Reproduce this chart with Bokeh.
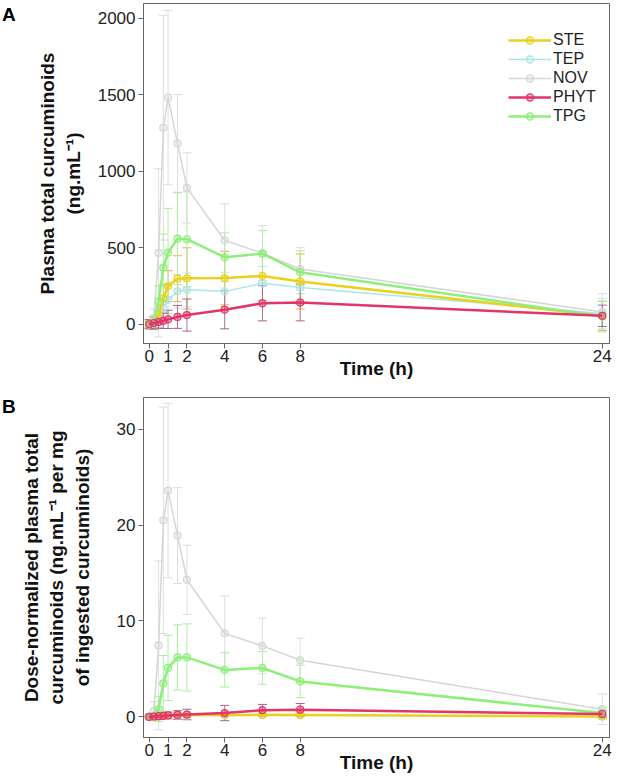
from bokeh.plotting import figure
from bokeh.models import (ColumnDataSource, Whisker, TeeHead, Legend, LegendItem,
                          FixedTicker, Range1d, Div)
from bokeh.layouts import column, row
from bokeh.embed import file_html
from bokeh.resources import INLINE

# ---------------- data ----------------
time_h = [0, 0.25, 0.5, 0.75, 1, 1.5, 2, 4, 6, 8, 24]
x_ticks = [0, 1, 2, 4, 6, 8, 24]
series_names = ["STE", "TEP", "NOV", "PHYT", "TPG"]

# Panel A: plasma total curcuminoids (ng/mL), mean and SD
ste_a = [0, 10, 60, 170, 250, 298, 300, 302, 316, 280, 55]
ste_a_sd = [30, 40, 60, 90, 100, 150, 200, 175, 160, 180, 95]
tep_a = [0, 5, 40, 110, 160, 215, 225, 215, 268, 240, 70]
tep_a_sd = [20, 30, 50, 70, 90, 110, 110, 125, 110, 110, 100]
nov_a = [0, 40, 467, 1286, 1483, 1183, 892, 548, 465, 361, 80]
nov_a_sd = [20, 60, 550, 735, 570, 320, 230, 240, 180, 140, 120]
phyt_a = [0, 8, 15, 22, 32, 48, 60, 95, 137, 142, 55]
phyt_a_sd = [30, 40, 40, 50, 60, 75, 105, 125, 115, 120, 70]
tpg_a = [0, 15, 150, 370, 468, 560, 556, 438, 462, 340, 50]
tpg_a_sd = [20, 40, 100, 220, 290, 300, 310, 160, 150, 140, 100]

# Panel B: dose-normalized values, mean and SD
ste_b = [0, 0.01, 0.05, 0.12, 0.16, 0.2, 0.2, 0.2, 0.21, 0.19, 0.04]
ste_b_sd = [0.05, 0.05, 0.08, 0.1, 0.12, 0.15, 0.15, 0.15, 0.15, 0.15, 0.1]
tep_b = [0, 0.01, 0.03, 0.08, 0.11, 0.15, 0.15, 0.14, 0.18, 0.16, 0.05]
tep_b_sd = [0.05, 0.05, 0.06, 0.08, 0.1, 0.1, 0.1, 0.1, 0.1, 0.1, 0.08]
nov_b = [0, 0.6, 7.45, 20.5, 23.6, 18.9, 14.3, 8.7, 7.4, 5.9, 0.8]
nov_b_sd = [0.3, 1.0, 8.8, 11.8, 9.1, 5.0, 3.6, 3.9, 2.9, 2.3, 1.6]
phyt_b = [0, 0.04, 0.07, 0.1, 0.15, 0.2, 0.25, 0.4, 0.7, 0.75, 0.3]
phyt_b_sd = [0.1, 0.2, 0.2, 0.3, 0.35, 0.45, 0.55, 0.8, 0.6, 0.65, 0.4]
tpg_b = [0, 0.1, 0.8, 3.5, 5.1, 6.2, 6.2, 4.9, 5.1, 3.7, 0.4]
tpg_b_sd = [0.1, 0.3, 1.3, 2.9, 3.4, 3.4, 3.5, 1.8, 1.7, 1.7, 0.6]

# ---------------- styles ----------------
line_col = {"STE": "#ead21c", "TEP": "#ace5ea", "NOV": "#d6d6d6",
            "PHYT": "#e2356b", "TPG": "#8fef7b"}
err_col = {"STE": "#e9b24a", "TEP": "#b9e8ec", "NOV": "#dcdcdc",
           "PHYT": "#a8638f", "TPG": "#a9eea0"}
line_w = {"STE": 2.5, "TEP": 1.5, "NOV": 1.5, "PHYT": 2.5, "TPG": 2.5}
draw_order = ["NOV", "TEP", "STE", "TPG", "PHYT"]

FONT = "Liberation Sans"
XMIN, XMAX = -0.3, 24.38
LETTER_W = 16
FIG_W = 602
BORDER_L = 127
FRAME_W = 466
FRAME_H = 340


def make_panel(data, ylim, yticks, ylabel, height, border_top, border_bottom,
               ylabel_standoff, with_legend):
    p = figure(width=FIG_W, height=height, output_backend="svg", toolbar_location=None,
               x_range=Range1d(XMIN, XMAX), y_range=Range1d(*ylim),
               min_border_left=BORDER_L, min_border_right=FIG_W - BORDER_L - FRAME_W,
               min_border_top=border_top, min_border_bottom=border_bottom)
    p.grid.visible = False
    p.outline_line_color = "#666666"
    p.outline_line_width = 1
    p.background_fill_color = "white"

    renderers = {}
    for name in draw_order:
        mean, sd = data[name]
        src = ColumnDataSource(dict(t=time_h, y=mean,
                                    up=[m + s for m, s in zip(mean, sd)],
                                    lo=[m - s for m, s in zip(mean, sd)]))
        w = Whisker(source=src, base="t", upper="up", lower="lo",
                    line_color=err_col[name], line_width=1, line_alpha=0.9,
                    upper_head=TeeHead(size=9, line_color=err_col[name], line_width=1),
                    lower_head=TeeHead(size=9, line_color=err_col[name], line_width=1))
        p.add_layout(w)
        ln = p.line("t", "y", source=src, line_color=line_col[name], line_width=line_w[name])
        sc = p.scatter("t", "y", source=src, marker="circle", size=7,
                       line_color=line_col[name], line_width=1.2,
                       fill_color=line_col[name], fill_alpha=0.35)
        renderers[name] = [ln, sc]

    if with_legend:
        items = [LegendItem(label=n, renderers=renderers[n]) for n in series_names]
        leg = Legend(items=items, location=(365, 218), border_line_color=None,
                     background_fill_alpha=0, label_text_font=FONT,
                     label_text_font_size="16px", label_text_color="#222222",
                     glyph_width=43, glyph_height=18, label_height=18,
                     spacing=1, padding=0, margin=0, label_standoff=2)
        p.add_layout(leg)

    ax = p.xaxis[0]
    ax.ticker = FixedTicker(ticks=x_ticks)
    ax.axis_label = "Time (h)"
    ay = p.yaxis[0]
    ay.ticker = FixedTicker(ticks=yticks)
    ay.axis_label = ylabel
    for a in (ax, ay):
        a.axis_label_text_font = FONT
        a.axis_label_text_font_style = "bold"
        a.axis_label_text_color = "#111111"
        a.major_label_text_font = FONT
        a.major_label_text_font_size = "17px"
        a.major_label_text_color = "#222222"
        a.axis_line_color = "#666666"
        a.major_tick_line_color = "#666666"
        a.major_tick_out = 5
        a.major_tick_in = 0
        a.minor_tick_line_color = None
    ax.major_label_standoff = 1
    ay.major_label_standoff = 3
    ax.axis_label_text_font_size = "19px"
    ax.axis_label_standoff = -7
    ay.axis_label_text_font_size = "19px"
    ay.axis_label_standoff = ylabel_standoff
    ay.axis_label_text_line_height = 1.2
    return p


def letter_div(letter, height, pad_top):
    return Div(text=letter, width=LETTER_W, height=height, margin=(0, 0, 0, 0),
               styles={"font-family": FONT, "font-size": "19px", "font-weight": "bold",
                       "line-height": "1", "padding-top": f"{pad_top}px",
                       "padding-left": "2px", "color": "#000000",
                       "box-sizing": "border-box"})


data_a = {"STE": (ste_a, ste_a_sd), "TEP": (tep_a, tep_a_sd), "NOV": (nov_a, nov_a_sd),
          "PHYT": (phyt_a, phyt_a_sd), "TPG": (tpg_a, tpg_a_sd)}
data_b = {"STE": (ste_b, ste_b_sd), "TEP": (tep_b, tep_b_sd), "NOV": (nov_b, nov_b_sd),
          "PHYT": (phyt_b, phyt_b_sd), "TPG": (tpg_b, tpg_b_sd)}

HA, HB = 390, 387
pa = make_panel(data_a, (-126, 2098), [0, 500, 1000, 1500, 2000],
                "Plasma total curcuminoids\n(ng.mL\u207b\u00b9)", HA, 3, HA - 3 - FRAME_H, 11, True)
pb = make_panel(data_b, (-2.15, 33.3), [0, 10, 20, 30],
                "Dose-normalized plasma total\ncurcuminoids (ng.mL\u207b\u00b9 per mg\nof ingested curcuminoids)",
                HB, 7, HB - 7 - FRAME_H, 21, False)

layout = column(row(letter_div("A", HA, 5), pa, spacing=0),
                row(letter_div("B", HB, 7), pb, spacing=0), spacing=0)
open("out.html", "w").write(file_html(layout, INLINE))
